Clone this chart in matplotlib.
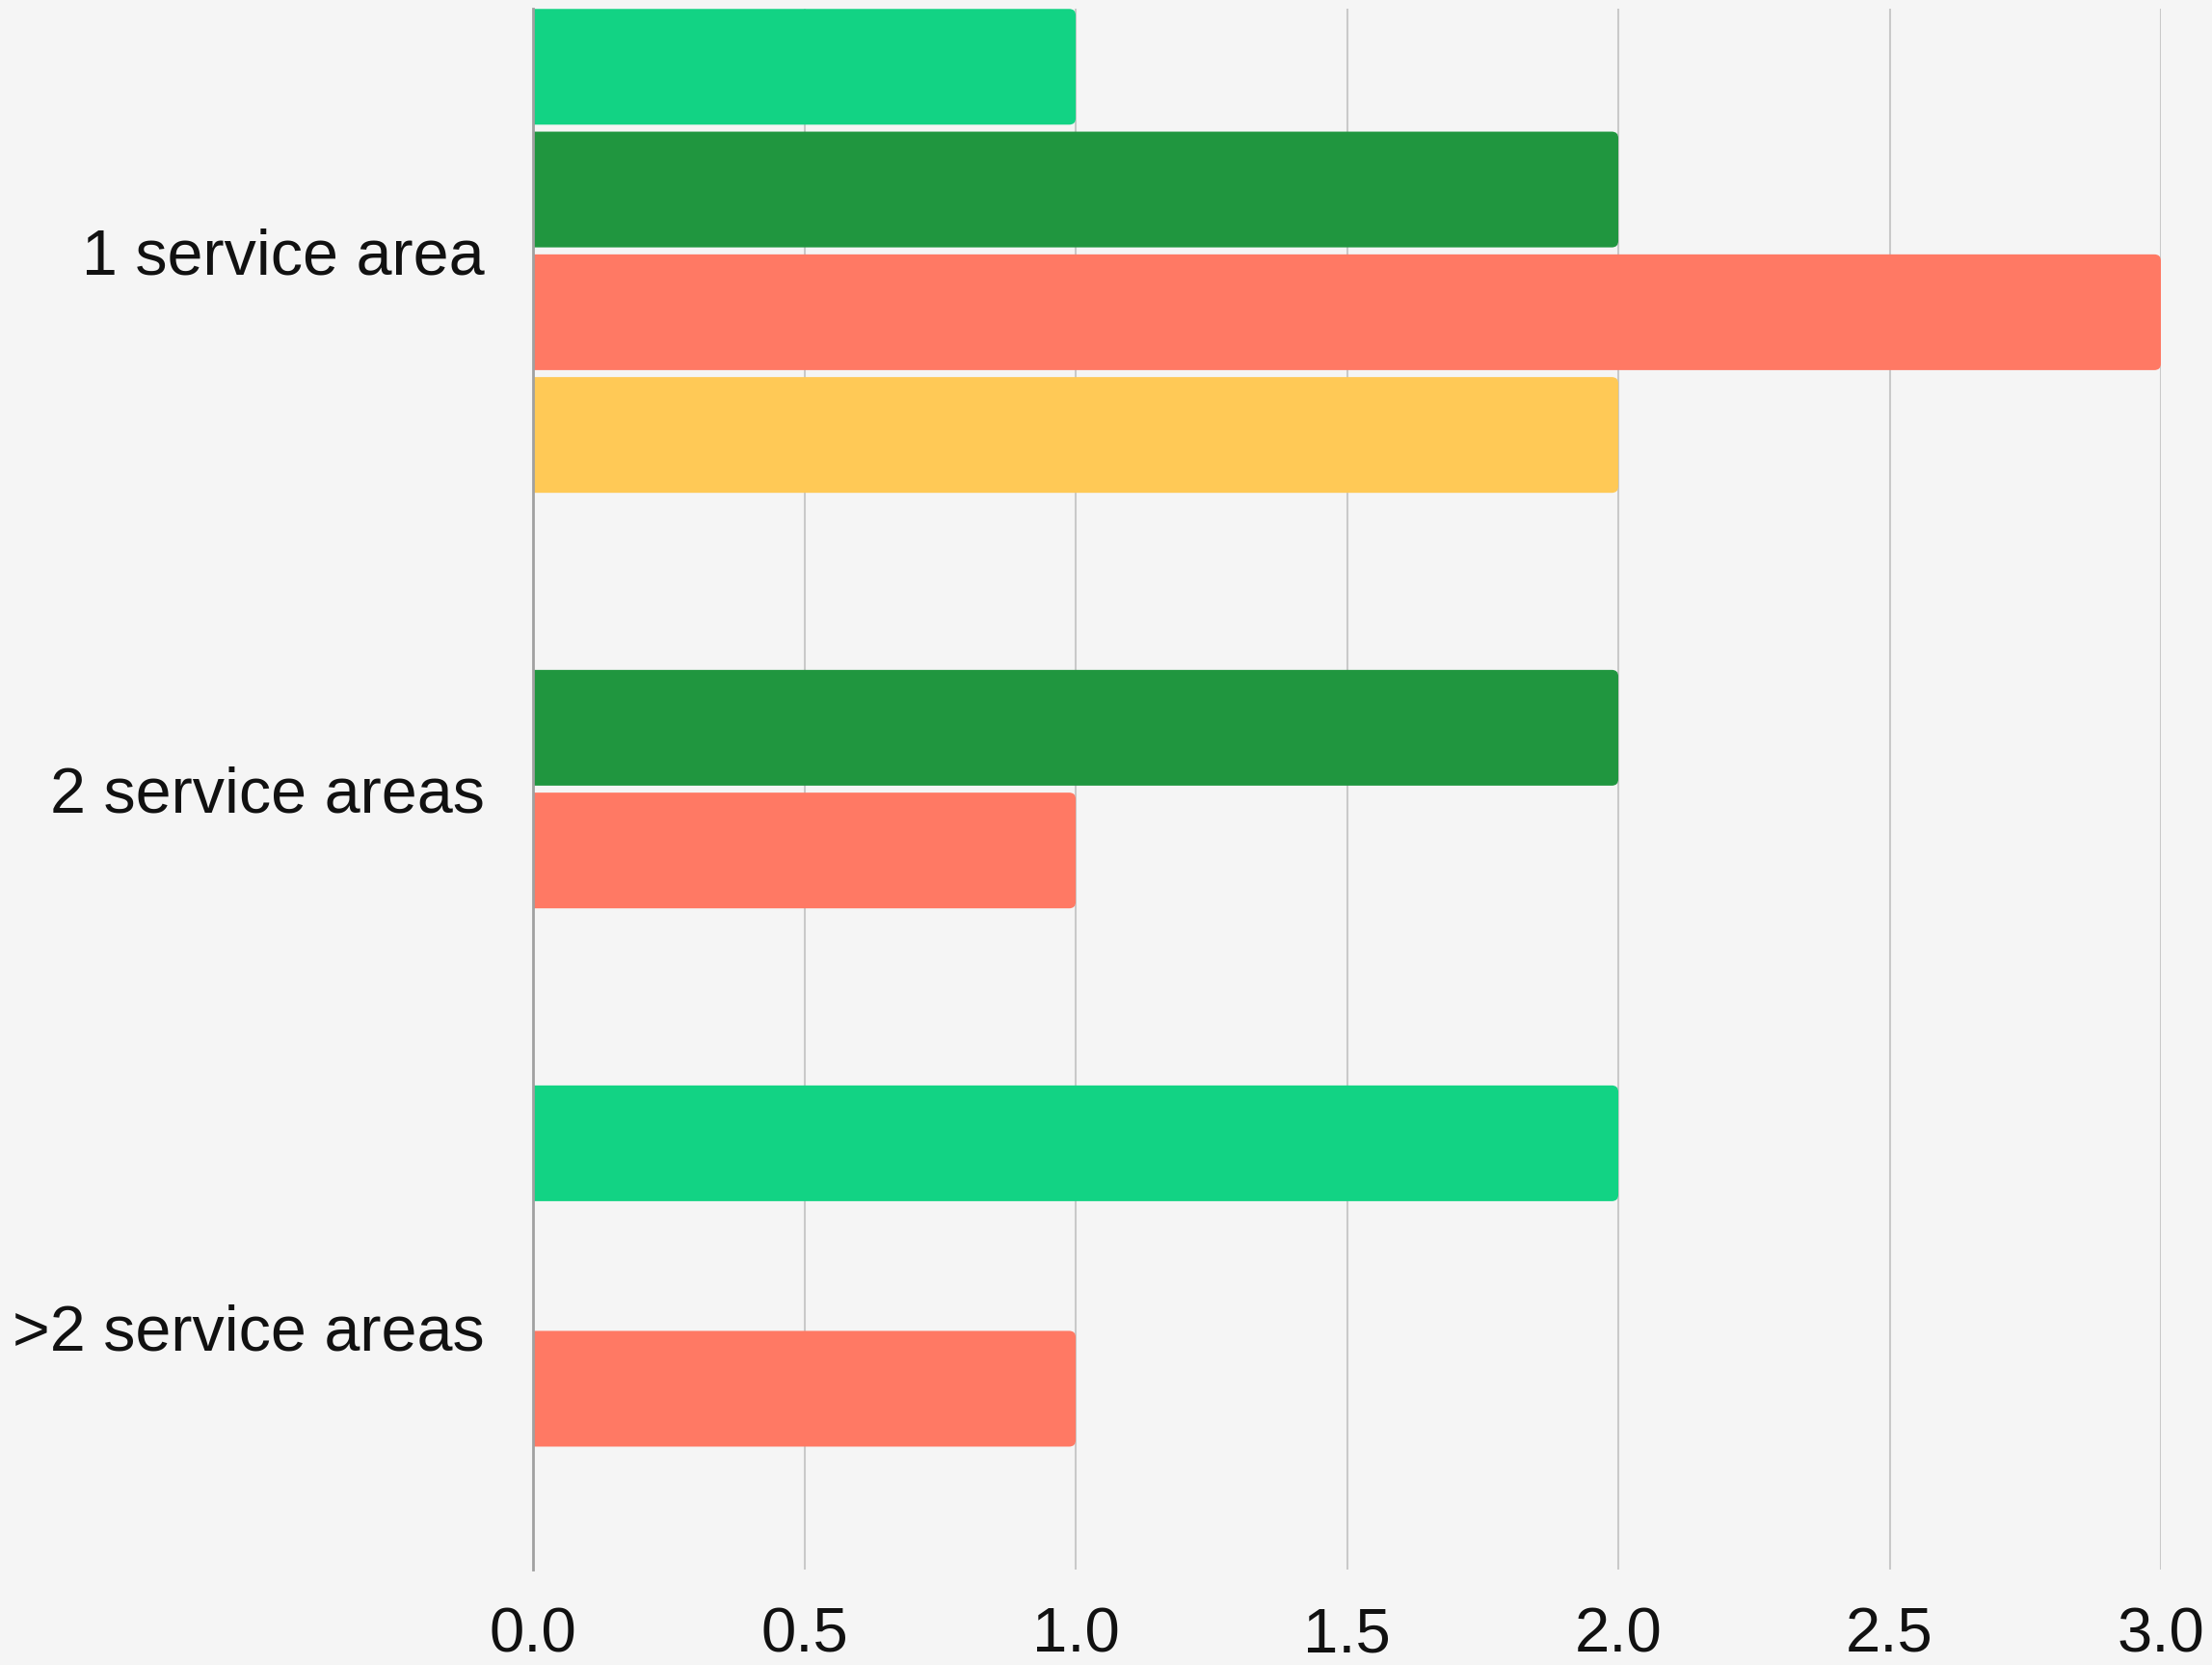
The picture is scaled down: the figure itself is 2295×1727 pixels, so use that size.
import matplotlib.pyplot as plt
import numpy as np
from matplotlib.patches import FancyBboxPatch

# data
categories = ['1 service area', '2 service areas', '>2 service areas']
s_light_green = [1, 0, 2]
s_dark_green = [2, 2, 0]
s_salmon = [3, 1, 1]
s_yellow = [2, 0, 0]
series = [s_light_green, s_dark_green, s_salmon, s_yellow]
colors = ['#12d384', '#20963f', '#ff7964', '#ffc956']
xticks = [0.0, 0.5, 1.0, 1.5, 2.0, 2.5, 3.0]

plt.rcParams['font.family'] = ['Liberation Sans', 'DejaVu Sans']

fig = plt.figure(figsize=(22.95, 17.27), dpi=100, facecolor='#f5f5f5')
ax = fig.add_axes([0.241, 0.0573, 0.7359, 0.9375])
ax.set_facecolor('none')

y = np.arange(len(categories))
step = 0.228
h = 0.215
for i, (vals, c) in enumerate(zip(series, colors)):
    bars = ax.barh(y + (i - 1.5) * step, vals, height=h, color=c, zorder=3)
    for b in bars:
        w = b.get_width()
        if w <= 0:
            b.set_visible(False)
            continue
        # rounded ends, left side hidden behind the axis line
        x0, y0 = b.get_xy()
        p = FancyBboxPatch((x0 - 0.03, y0), w + 0.03, b.get_height(),
                           boxstyle='round,pad=0,rounding_size=0.012',
                           fc=c, ec='none', zorder=3)
        ax.add_patch(p)
        b.set_visible(False)

ax.set_xlim(0, 3.0)
ax.set_ylim(2.45, -0.45)
ax.set_xticks(xticks)
ax.set_xticklabels([f'{t:.1f}' for t in xticks])
ax.set_yticks(y)
ax.set_yticklabels(categories)

ax.grid(axis='x', color='#c9c9c9', linewidth=1.5, zorder=1)
ax.set_axisbelow(True)
for s in ['top', 'right', 'bottom']:
    ax.spines[s].set_visible(False)
ax.spines['left'].set_color('#a0a0a0')
ax.spines['left'].set_linewidth(2)
ax.spines['left'].set_zorder(4)

ax.tick_params(axis='y', length=0, pad=36, labelsize=47.8, labelcolor='#111111')
ax.tick_params(axis='x', length=0, pad=28, labelsize=47, labelcolor='#111111')

fig.savefig('out.png', dpi=100, facecolor=fig.get_facecolor())
